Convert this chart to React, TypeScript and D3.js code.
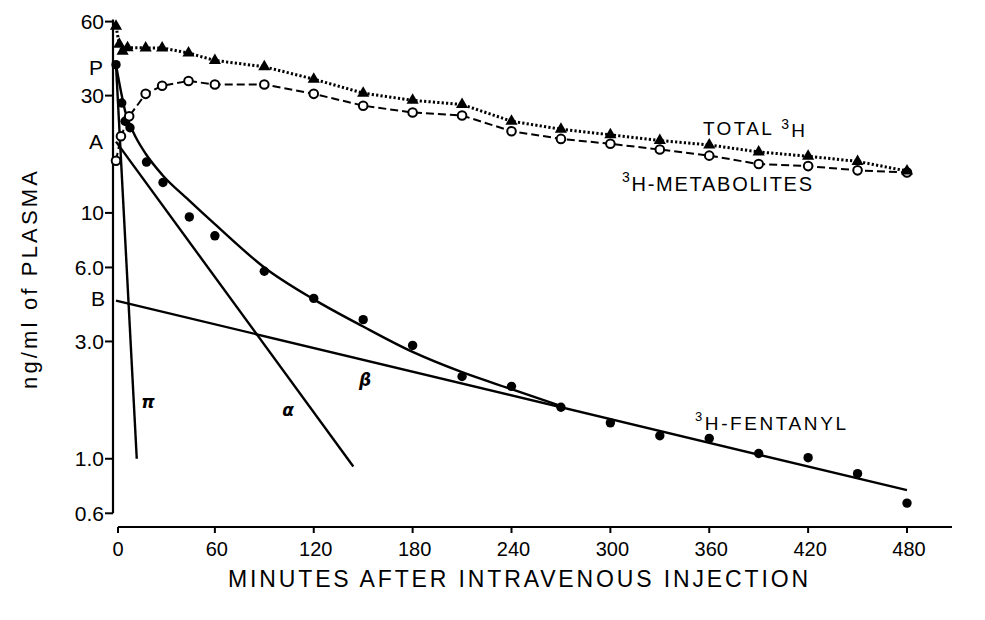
import React, { useEffect } from 'react';
import * as d3 from 'd3';

// values (minutes, ng/ml)
const totalTimes = [0, 2, 4, 7, 18, 28, 44, 60, 90, 120, 150, 180, 210, 240, 270, 300, 330, 360, 390, 420, 450, 480];
const totalValues = [57.4, 48.5, 45.5, 47, 46.9, 46.9, 44.7, 41.7, 39.3, 35.0, 30.7, 28.7, 27.6, 23.6, 21.9, 20.8, 19.7, 18.9, 17.7, 17.0, 16.2, 14.8];

const metabTimes = [0, 3, 8, 18, 28, 44, 60, 90, 120, 150, 180, 210, 240, 270, 300, 330, 360, 390, 420, 450, 480];
const metabValues = [16.3, 20.5, 24.7, 30.5, 32.9, 34.4, 33.3, 33.3, 30.5, 27.3, 25.6, 24.9, 21.5, 20.0, 19.1, 18.1, 17.1, 15.8, 15.5, 14.9, 14.6];

const fentTimes = [0, 3.5, 5.5, 8.5, 18.5, 28.5, 44.5, 60, 90, 120, 150, 180, 210, 240, 270, 300, 330, 360, 390, 420, 450, 480];
const fentValues = [40.1, 28.0, 23.6, 22.2, 16.1, 13.3, 9.63, 8.07, 5.79, 4.49, 3.68, 2.89, 2.16, 1.97, 1.62, 1.40, 1.24, 1.21, 1.05, 1.01, 0.87, 0.66];

// fitted curve through the fentanyl points
const fitTimes = [0, 3.5, 5.5, 8.5, 12, 18, 28, 44, 60, 90, 120, 150, 180, 210, 240, 270];
const fitValues = [40, 30, 26, 22.8, 20.3, 17.4, 14.3, 11.3, 9.0, 6.0, 4.45, 3.45, 2.72, 2.25, 1.92, 1.64];

// exponential components (start / end of each straight line)
const piTimes = [0, 12.6];
const piValues = [40, 1.0];
const alphaTimes = [0, 144];
const alphaValues = [19.5, 0.93];
const betaTimes = [0, 480];
const betaValues = [4.4, 0.745];

const yTicks = [60, 30, 10, 6, 3, 1, 0.6];
const yTickLabels = ['60', '30', '10', '6.0', '3.0', '1.0', '0.6'];
const xTicks = [0, 60, 120, 180, 240, 300, 360, 420, 480];

const FONT = '"Liberation Sans", Arial, Helvetica, sans-serif';

const x = d3.scaleLinear().domain([0, 480]).range([116, 907]);
const y = d3.scaleLog().domain([0.6, 60]).range([513.3, 21.6]);

const zip = (ts: number[], vs: number[]) => ts.map((t, i) => [t, vs[i]] as [number, number]);

const line = d3.line<[number, number]>()
  .x(d => x(d[0]))
  .y(d => y(d[1]));

const smooth = d3.line<[number, number]>()
  .x(d => x(d[0]))
  .y(d => y(d[1]))
  .curve(d3.curveMonotoneX);

const tri = d3.symbol().type(d3.symbolTriangle).size(64)()!;

export default function App() {
  useEffect(() => {
    document.body.style.margin = '0';
  }, []);

  const axisX = x(0) - 3;
  const axisY = 527;

  const total = zip(totalTimes, totalValues);
  const metab = zip(metabTimes, metabValues);
  const fent = zip(fentTimes, fentValues);

  return (
    <svg width={985} height={620} style={{ position: 'absolute', left: 0, top: 0, background: '#fff' }}
      fontFamily={FONT}>
      {/* y axis */}
      <line x1={axisX} x2={axisX} y1={y(60) - 2} y2={y(0.6)} stroke="#000" strokeWidth={2.2} />
      {yTicks.map((v, i) => (
        <g key={'yt' + i}>
          <line x1={axisX - 8} x2={axisX} y1={y(v)} y2={y(v)} stroke="#000" strokeWidth={2} />
          <text x={axisX - 9} y={y(v)} dy="0.36em" textAnchor="end" fontSize={21}>{yTickLabels[i]}</text>
        </g>
      ))}
      {/* intercept labels */}
      <text x={96} y={y(piValues[0]) + 3} dy="0.36em" textAnchor="middle" fontSize={21}>P</text>
      <text x={96} y={y(alphaValues[0])} dy="0.36em" textAnchor="middle" fontSize={21}>A</text>
      <text x={98} y={y(betaValues[0]) - 2} dy="0.36em" textAnchor="middle" fontSize={21}>B</text>

      {/* x axis */}
      <line x1={x(0) + 2} x2={952} y1={axisY} y2={axisY} stroke="#000" strokeWidth={2.2} />
      {xTicks.map(t => (
        <g key={'xt' + t}>
          <line x1={x(t) + (t === 0 ? 2 : 0)} x2={x(t) + (t === 0 ? 2 : 0)} y1={axisY} y2={axisY + 6} stroke="#000" strokeWidth={2} />
          <text x={x(t) + 2} y={549} dy="0.36em" textAnchor="middle" fontSize={20}>{t}</text>
        </g>
      ))}
      <text x={518} y={579} dy="0.36em" textAnchor="middle" fontSize={23}
        textLength={580} lengthAdjust="spacing">MINUTES AFTER INTRAVENOUS INJECTION</text>
      <text transform="translate(29,280) rotate(-90)" dy="0.36em" textAnchor="middle" fontSize={22}
        textLength={218} lengthAdjust="spacing">ng/ml of PLASMA</text>

      {/* component lines and fit */}
      <path d={line(zip(piTimes, piValues))!} fill="none" stroke="#000" strokeWidth={2.4} />
      <path d={line(zip(alphaTimes, alphaValues))!} fill="none" stroke="#000" strokeWidth={2.4} />
      <path d={line(zip(betaTimes, betaValues))!} fill="none" stroke="#000" strokeWidth={2.4} />
      <path d={smooth(zip(fitTimes, fitValues))!} fill="none" stroke="#000" strokeWidth={2.4} />

      {/* total 3H and metabolites */}
      <path d={line(total)!} fill="none" stroke="#000" strokeWidth={3} strokeDasharray="2.2 2.2" />
      <path d={line(metab)!} fill="none" stroke="#000" strokeWidth={2} strokeDasharray="8 4" />

      {fent.map((d, i) => (
        <circle key={'f' + i} cx={x(d[0])} cy={y(d[1])} r={4.7} fill="#000" />
      ))}
      {metab.map((d, i) => (
        <circle key={'m' + i} cx={x(d[0])} cy={y(d[1])} r={4.3} fill="#fff" stroke="#000" strokeWidth={2} />
      ))}
      {total.map((d, i) => (
        <path key={'t' + i} d={tri} transform={`translate(${x(d[0])},${y(d[1])})`} fill="#000" />
      ))}

      {/* greek labels */}
      <text x={148} y={402} dy="0.36em" textAnchor="middle" fontSize={17} fontStyle="italic" fontWeight="bold"
        fontFamily='"DejaVu Sans", sans-serif'>π</text>
      <text x={288} y={410} dy="0.36em" textAnchor="middle" fontSize={17} fontStyle="italic" fontWeight="bold"
        fontFamily='"DejaVu Sans", sans-serif'>α</text>
      <text x={365} y={380} dy="0.36em" textAnchor="middle" fontSize={17} fontStyle="italic" fontWeight="bold"
        fontFamily='"DejaVu Sans", sans-serif'>β</text>

      {/* series labels */}
      <text x={703} y={128} dy="0.36em" fontSize={19} textLength={102} lengthAdjust="spacing">
        TOTAL <tspan fontSize={14} dy="-0.45em">3</tspan><tspan dy="0.45em">H</tspan>
      </text>
      <text x={622} y={188} dy="0.36em" fontSize={20} textLength={190} lengthAdjust="spacing">
        <tspan fontSize={14} dy="-0.45em">3</tspan><tspan dy="0.45em">H-METABOLITES</tspan>
      </text>
      <text x={695} y={427} dy="0.36em" fontSize={19} textLength={151} lengthAdjust="spacing">
        <tspan fontSize={13} dy="-0.45em">3</tspan><tspan dy="0.45em">H-FENTANYL</tspan>
      </text>
    </svg>
  );
}
